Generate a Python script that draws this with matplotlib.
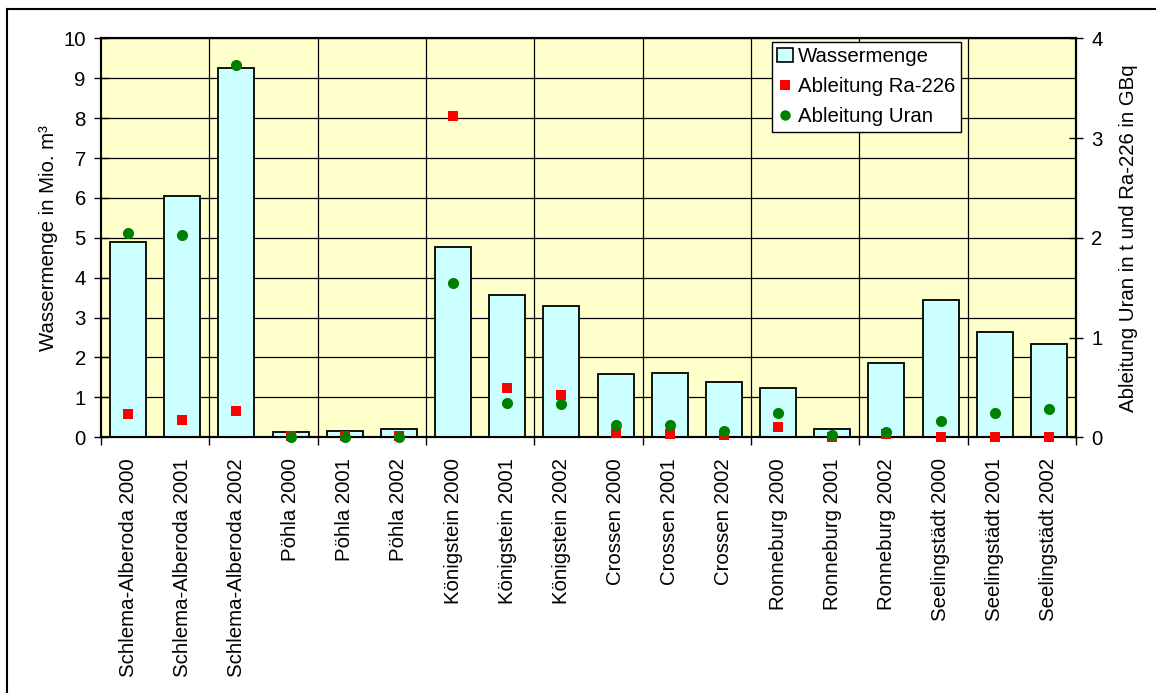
import matplotlib
matplotlib.use("Agg")
import matplotlib.pyplot as plt
from matplotlib.lines import Line2D
from matplotlib.patches import Patch
import numpy as np

plt.rcParams['font.family'] = ['Liberation Sans', 'DejaVu Sans']

categories = [
    "Schlema-Alberoda 2000", "Schlema-Alberoda 2001", "Schlema-Alberoda 2002",
    "Pöhla 2000", "Pöhla 2001", "Pöhla 2002",
    "Königstein 2000", "Königstein 2001", "Königstein 2002",
    "Crossen 2000", "Crossen 2001", "Crossen 2002",
    "Ronneburg 2000", "Ronneburg 2001", "Ronneburg 2002",
    "Seelingstädt 2000", "Seelingstädt 2001", "Seelingstädt 2002",
]
# Wassermenge in Mio. m³
wassermenge = [4.90, 6.06, 9.26, 0.13, 0.17, 0.22,
               4.78, 3.57, 3.30, 1.58, 1.60, 1.39,
               1.24, 0.21, 1.85, 3.43, 2.64, 2.33]
# Ableitung Ra-226 in GBq
ra226 = [0.23, 0.17, 0.26, 0.015, 0.015, 0.015,
         3.22, 0.49, 0.42, 0.04, 0.03, 0.02,
         0.10, 0.00, 0.03, 0.005, 0.005, 0.005]
# Ableitung Uran in t
uran = [2.045, 2.03, 3.73, 0.005, 0.005, 0.005,
        1.55, 0.34, 0.33, 0.12, 0.125, 0.066,
        0.24, 0.02, 0.05, 0.16, 0.24, 0.28]

FS = 14.7
fig = plt.figure(figsize=(11.56, 6.93), dpi=100)
ax = fig.add_axes([0.0874, 0.369, 0.9308 - 0.0874, 0.9447 - 0.369])
ax.set_facecolor("#FFFFCC")

x = np.arange(len(categories))
ax.bar(x, wassermenge, width=0.665, color="#CCFFFF", edgecolor="black",
       linewidth=1.3, zorder=3)

ax.set_xlim(-0.5, len(categories) - 0.5)
ax.set_ylim(0, 10)
ax.set_yticks(range(0, 11))
ax.yaxis.grid(True, color="black", linewidth=0.9, zorder=1)
ax.set_axisbelow(True)

# category labels on every bar, separators every two categories
ax.set_xticks(x)
ax.set_xticklabels(categories, rotation=90, fontsize=FS)
ax.tick_params(axis="x", which="major", length=0, pad=15)
sep = np.arange(-0.5, len(categories), 2)
ax.set_xticks(sep, minor=True)
ax.tick_params(axis="x", which="minor", length=6, width=1, direction="out")
for s in sep[1:-1]:
    ax.axvline(s, color="black", linewidth=0.9, zorder=1)

ax.tick_params(axis="y", length=10, width=1, direction="inout", labelsize=FS, pad=6)
ax.set_ylabel("Wassermenge in Mio. m³", fontsize=FS, labelpad=4)
for sp in ax.spines.values():
    sp.set_linewidth(1.5)

ax2 = ax.twinx()
ax2.set_ylim(0, 4)
ax2.set_yticks(range(0, 5))
ax2.tick_params(axis="y", length=10, width=1, direction="inout", labelsize=FS, pad=6)
ax2.set_ylabel("Ableitung Uran in t und Ra-226 in GBq", fontsize=FS, labelpad=12)
for sp in ax2.spines.values():
    sp.set_linewidth(1.5)

ax2.plot(x, ra226, linestyle="none", marker="s", markersize=7.4,
         color="#FF0000", markeredgewidth=0, clip_on=False, zorder=4)
ax2.plot(x, uran, linestyle="none", marker="o", markersize=8,
         color="#008000", markeredgewidth=0, clip_on=False, zorder=5)

handles = [
    Patch(facecolor="#CCFFFF", edgecolor="black", linewidth=1.2, label="Wassermenge"),
    Line2D([], [], linestyle="none", marker="s", markersize=7, color="#FF0000",
           markeredgewidth=0, label="Ableitung Ra-226"),
    Line2D([], [], linestyle="none", marker="o", markersize=7.5, color="#008000",
           markeredgewidth=0, label="Ableitung Uran"),
]
leg = ax2.legend(handles=handles, loc="upper left",
                 bbox_to_anchor=(0.688, 0.991), fontsize=FS, frameon=True,
                 fancybox=False, edgecolor="black", framealpha=1,
                 handlelength=0.8, handletextpad=0.25, borderpad=0.25,
                 labelspacing=0.55, borderaxespad=0)
leg.get_frame().set_linewidth(1.0)

# outer chart frame
fig.add_artist(Line2D([7 / 1156, 7 / 1156], [0, 1 - 9 / 693],
                      transform=fig.transFigure, color="black", linewidth=1.5))
fig.add_artist(Line2D([7 / 1156, 1], [1 - 9 / 693, 1 - 9 / 693],
                      transform=fig.transFigure, color="black", linewidth=1.5))

fig.savefig("out.png", dpi=100)
